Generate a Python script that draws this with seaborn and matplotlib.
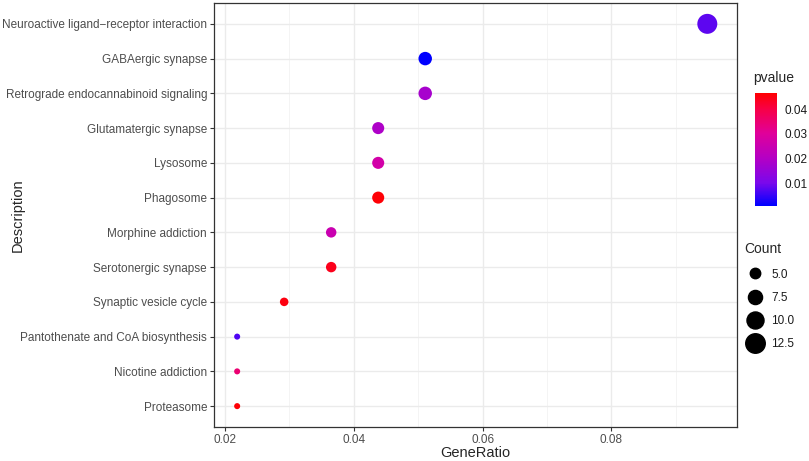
import numpy as np
import pandas as pd
import matplotlib
matplotlib.use('Agg')
import matplotlib.pyplot as plt
import seaborn as sns
from matplotlib.colors import LinearSegmentedColormap, Normalize
from matplotlib.cm import ScalarMappable
from matplotlib.lines import Line2D
from matplotlib.ticker import MultipleLocator

# Data
descriptions = [
    'Neuroactive ligand\u2212receptor interaction',
    'GABAergic synapse',
    'Retrograde endocannabinoid signaling',
    'Glutamatergic synapse',
    'Lysosome',
    'Phagosome',
    'Morphine addiction',
    'Serotonergic synapse',
    'Synaptic vesicle cycle',
    'Pantothenate and CoA biosynthesis',
    'Nicotine addiction',
    'Proteasome',
]
counts = [13, 7, 7, 6, 6, 6, 5, 5, 4, 3, 3, 3]
gene_ratio = [13 / 137, 7 / 137, 7 / 137, 6 / 137, 6 / 137, 6 / 137,
              5 / 137, 5 / 137, 4 / 137, 3 / 137, 3 / 137, 3 / 137]
pvalues = [0.008, 0.001, 0.018, 0.019, 0.027, 0.046,
           0.025, 0.044, 0.045, 0.007, 0.035, 0.046]
count_breaks = [5.0, 7.5, 10.0, 12.5]
pval_ticks = [0.01, 0.02, 0.03, 0.04]

df = pd.DataFrame({'Description': descriptions, 'GeneRatio': gene_ratio,
                   'Count': counts, 'pvalue': pvalues})

# blue -> red through purple (like ggplot's Lab gradient)
cmap = LinearSegmentedColormap.from_list(
    'bluered', [(0.0, '#0000ff'), (0.2, '#7a08ec'), (0.42, '#b400c4'),
                (0.64, '#e0009a'), (0.86, '#f80044'), (1.0, '#ff0000')])
norm = Normalize(vmin=0.001, vmax=0.0466)

SIZE_RANGE = (19, 207)
cmin, cmax = min(counts), max(counts)


def size_of(c):
    return SIZE_RANGE[0] + (c - cmin) / (cmax - cmin) * (SIZE_RANGE[1] - SIZE_RANGE[0])


sns.set_style('white')
plt.rcParams['font.family'] = ['Liberation Sans', 'DejaVu Sans']

fig = plt.figure(figsize=(8.09, 4.61), dpi=100)
ax = fig.add_axes([0.2645, 0.0738, 0.6465, 0.9197])

sns.scatterplot(data=df, x='GeneRatio', y='Description', hue='pvalue',
                hue_norm=norm, palette=cmap, size='Count',
                sizes=SIZE_RANGE, size_norm=(cmin, cmax),
                linewidth=0, legend=False, ax=ax, zorder=3)

ax.set_xlim(0.0183, 0.0995)
ax.set_ylim(len(descriptions) - 0.4, -0.6)
ax.xaxis.set_major_locator(MultipleLocator(0.02))
ax.xaxis.set_minor_locator(MultipleLocator(0.01))
ax.set_xticks([0.02, 0.04, 0.06, 0.08])
ax.set_xticklabels(['0.02', '0.04', '0.06', '0.08'])
ax.grid(True, which='major', color='#ebebeb', linewidth=1.0, zorder=0)
ax.grid(True, which='minor', axis='x', color='#f3f3f3', linewidth=0.6, zorder=0)
ax.set_axisbelow(True)
for s in ax.spines.values():
    s.set_color('#333333')
    s.set_linewidth(0.9)
ax.tick_params(axis='both', which='major', length=3, width=0.8, color='#333333',
               labelsize=8.5, labelcolor='#4d4d4d', pad=2, left=True, bottom=True)
ax.tick_params(axis='x', which='minor', length=0)
ax.set_xlabel('GeneRatio', fontsize=10.5, labelpad=0)
ax.set_ylabel('Description', fontsize=10.5)
ax.yaxis.set_label_coords(-0.362, 0.5)

# pvalue colour bar
cax = fig.add_axes([0.933, 0.554, 0.027, 0.245])
sm = ScalarMappable(norm=norm, cmap=cmap)
cb = fig.colorbar(sm, cax=cax, ticks=pval_ticks)
cb.outline.set_visible(False)
cb.ax.tick_params(length=4, width=0.6, color='white', direction='in',
                  labelsize=8.5, labelcolor='#1a1a1a', pad=6)
cb.ax.set_yticklabels([f'{t:.2f}' for t in pval_ticks])
fig.text(0.931, 0.815, 'pvalue', fontsize=10, ha='left', va='bottom')

# Count size legend
handles = [Line2D([], [], marker='o', linestyle='', color='black',
                  markersize=np.sqrt(size_of(c))) for c in count_breaks]
leg = fig.legend(handles, [f'{c:.1f}' for c in count_breaks], title='Count',
                 loc='upper left', bbox_to_anchor=(0.917, 0.48),
                 frameon=False, fontsize=8.5, title_fontsize=10,
                 labelspacing=0.95, handlelength=1.8, handletextpad=0.5,
                 borderaxespad=0, borderpad=0.2)
leg._legend_box.align = 'left'
leg._legend_box.sep = 9
for t in leg.get_texts():
    t.set_color('#1a1a1a')

fig.savefig('out.png', dpi=100)
